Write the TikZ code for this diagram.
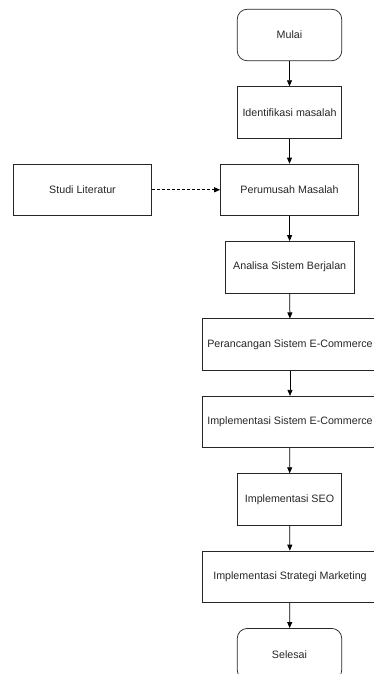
\documentclass[tikz,border=0pt]{standalone}
\usepackage{fontspec}
\setmainfont{Liberation Sans}
\usetikzlibrary{arrows.meta}
\begin{document}
\begin{tikzpicture}[x=1pt,y=-1pt,
  box/.style={draw=black!85,line width=0.75pt,rectangle,minimum height=51.5pt,
    inner sep=0pt,font=\fontsize{10.7}{12}\selectfont,text=black!85},
  term/.style={box,rounded corners=10pt,minimum width=104.5pt},
  flow/.style={line width=0.75pt,-{Triangle[length=6pt,width=5pt]}},
  dashflow/.style={flow,dash pattern=on 3pt off 2pt}]
\useasboundingbox (0,0) rectangle (373,674);
\node[term] (mulai) at (289.5,35) {Mulai};
\node[box,minimum width=104.5pt] (ident) at (289.5,112.4) {Identifikasi masalah};
\node[box,minimum width=138pt] (rumus) at (289.5,189.8) {Perumusah Masalah};
\node[box,minimum width=138pt] (studi) at (82.5,189.8) {Studi Literatur};
\node[box,minimum width=129.5pt] (analisa) at (289.7,267.2) {Analisa Sistem Berjalan};
\node[box,minimum width=176pt] (rancang) at (290,344.6) {Perancangan Sistem E-Commerce};
\node[box,minimum width=176pt] (implsis) at (290,422) {Implementasi Sistem E-Commerce};
\node[box,minimum width=104.5pt] (seo) at (289.5,499.4) {Implementasi SEO};
\node[box,minimum width=176pt] (market) at (290,576.8) {Implementasi Strategi Marketing};
\node[term] (selesai) at (289.5,654.2) {Selesai};
\draw[flow] (mulai) -- (ident);
\draw[flow] (ident) -- (rumus);
\draw[dashflow] (studi) -- (rumus);
\draw[flow] (rumus) -- (analisa);
\draw[flow] (analisa) -- (rancang);
\draw[flow] (rancang) -- (implsis);
\draw[flow] (implsis) -- (seo);
\draw[flow] (seo) -- (market);
\draw[flow] (market) -- (selesai);
\end{tikzpicture}
\end{document}
